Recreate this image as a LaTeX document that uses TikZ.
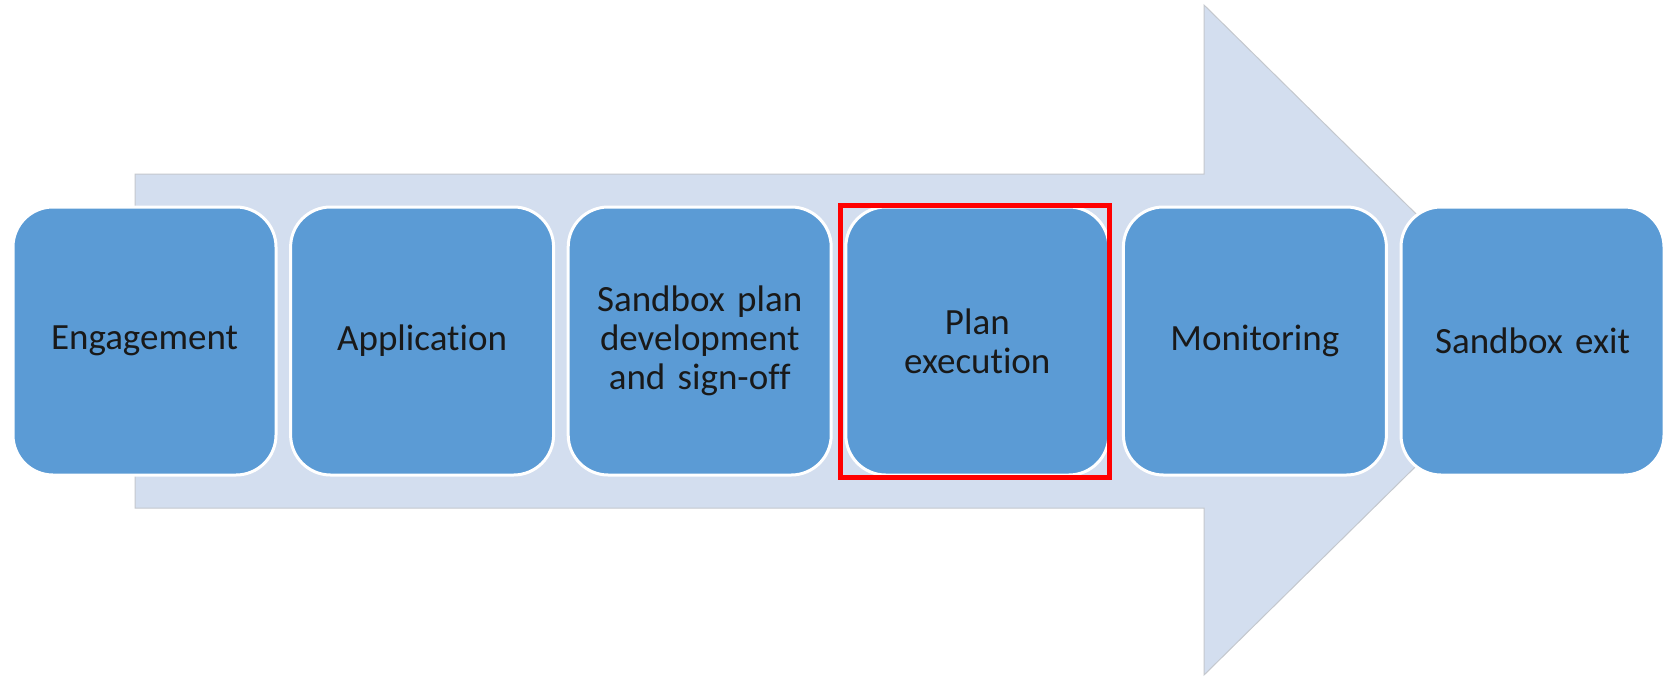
\documentclass[tikz,border=0pt]{standalone}
\usepackage{fontspec}
\setmainfont[Ligatures=NoCommon]{Carlito}
\definecolor{boxblue}{HTML}{5B9BD5}
\definecolor{arrowfill}{HTML}{D3DEEF}
\definecolor{arrowline}{HTML}{C4C8CE}
\tikzset{
  stepbox/.style={draw=white, line width=3pt, fill=boxblue, rounded corners=40pt,
    minimum width=263pt, minimum height=268pt, outer sep=0pt, inner sep=4pt,
    text width=250pt, align=center, text=black!90,
    font=\fontsize{37}{39}\selectfont},
  bigarrow/.style={draw=arrowline, line width=1pt, fill=arrowfill},
  redframe/.style={draw=red, line width=5pt}
}
\begin{document}
\begin{tikzpicture}[x=1pt,y=-1pt]
\fill[white] (0,0) rectangle (1667,678);
\useasboundingbox (0,0) rectangle (1667,678);
\coordinate (a1) at (135,174);
\coordinate (a2) at (1204,174);
\coordinate (a3) at (1204,5);
\coordinate (a4) at (1544,340);
\coordinate (a5) at (1204,675);
\coordinate (a6) at (1204,508);
\coordinate (a7) at (135,508);
\draw[bigarrow] (a1) -- (a2) -- (a3) -- (a4) -- (a5) -- (a6) -- (a7) -- cycle;
\node[stepbox] (b1) at (144.5,341) {Engagement};
\node[stepbox] (b2) at (422.1,341) {Application};
\node[stepbox] (b3) at (699.7,341) {Sandbox plan\\development\\and sign-off};
\node[stepbox] (b4) at (977.3,341) {Plan\\execution};
\node[stepbox] (b5) at (1254.9,341) {Monitoring};
\node[stepbox] (b6) at (1532.5,341) {Sandbox exit};
\draw[redframe] ([xshift=-5pt,yshift=1.5pt]b4.north west) rectangle ([xshift=1pt,yshift=-2.5pt]b4.south east);
\end{tikzpicture}
\end{document}
